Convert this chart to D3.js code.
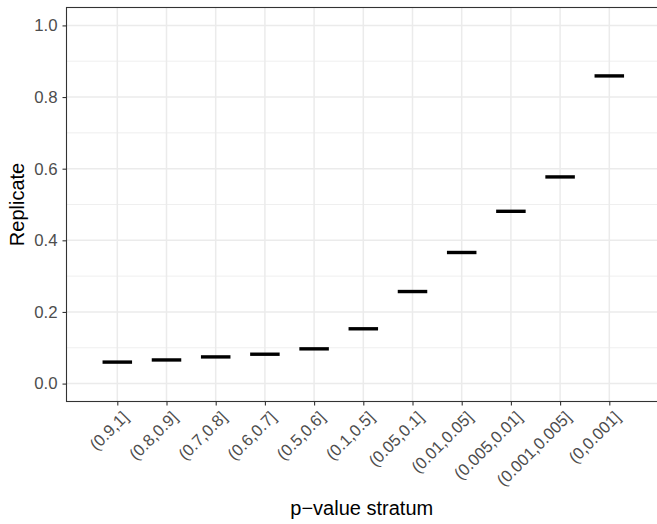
<!DOCTYPE html>
<html>
<head>
<meta charset="utf-8">
<script src="https://cdn.jsdelivr.net/npm/d3@7"></script>
<style>
  html, body { margin: 0; padding: 0; background: #fff; }
  svg { display: block; font-family: "Liberation Sans", Arial, Helvetica, sans-serif; }
</style>
</head>
<body>
<svg id="chart" width="657" height="524"></svg>
<script>
// ---- data ----
const categories = ["(0.9,1]", "(0.8,0.9]", "(0.7,0.8]", "(0.6,0.7]", "(0.5,0.6]", "(0.1,0.5]",
                    "(0.05,0.1]", "(0.01,0.05]", "(0.005,0.01]", "(0.001,0.005]", "(0,0.001]"];
const replicate = [0.060, 0.066, 0.0745, 0.082, 0.097, 0.153, 0.257, 0.366, 0.481, 0.577, 0.859];
const yTicks = [0.0, 0.2, 0.4, 0.6, 0.8, 1.0];
const yMinor = [0.1, 0.3, 0.5, 0.7, 0.9];
const xTitle = "p\u2212value stratum";
const yTitle = "Replicate";

// ---- layout ----
const svg = d3.select("#chart");
const panel = { left: 66.5, right: 658, top: 7.5, bottom: 401.5 };

const x = d3.scalePoint().domain(categories).range([117.3, 609.3]);
const y = d3.scaleLinear().domain([-0.05, 1.05]).range([panel.bottom, panel.top]);

// panel background
svg.append("rect")
  .attr("x", panel.left).attr("y", panel.top)
  .attr("width", panel.right - panel.left).attr("height", panel.bottom - panel.top)
  .attr("fill", "#fff");

// minor grid
svg.append("g").selectAll("line").data(yMinor).join("line")
  .attr("x1", panel.left).attr("x2", panel.right)
  .attr("y1", d => y(d)).attr("y2", d => y(d))
  .attr("stroke", "#EBEBEB").attr("stroke-width", 0.8);

// major grid
svg.append("g").selectAll("line").data(yTicks).join("line")
  .attr("x1", panel.left).attr("x2", panel.right)
  .attr("y1", d => y(d)).attr("y2", d => y(d))
  .attr("stroke", "#EBEBEB").attr("stroke-width", 1.5);
svg.append("g").selectAll("line").data(categories).join("line")
  .attr("x1", d => x(d)).attr("x2", d => x(d))
  .attr("y1", panel.top).attr("y2", panel.bottom)
  .attr("stroke", "#EBEBEB").attr("stroke-width", 1.5);

// segments
const half = x.step() * 0.3;
svg.append("g").selectAll("line").data(categories).join("line")
  .attr("x1", d => x(d) - half).attr("x2", d => x(d) + half)
  .attr("y1", (d, i) => y(replicate[i])).attr("y2", (d, i) => y(replicate[i]))
  .attr("stroke", "#000").attr("stroke-width", 3.4);

// panel border
svg.append("rect")
  .attr("x", panel.left).attr("y", panel.top)
  .attr("width", panel.right - panel.left).attr("height", panel.bottom - panel.top)
  .attr("fill", "none").attr("stroke", "#333333").attr("stroke-width", 1.1);

// y axis
const yAxis = d3.axisLeft(y).tickValues(yTicks).tickFormat(d3.format(".1f")).tickSize(4).tickPadding(5);
const gy = svg.append("g").attr("transform", `translate(${panel.left},0)`).call(yAxis);
gy.select(".domain").remove();
gy.selectAll(".tick line").attr("stroke", "#333333").attr("stroke-width", 1.1);
gy.selectAll(".tick text").attr("fill", "#4D4D4D").style("font-size", "16.8px")
  .style("font-family", "'Liberation Sans', Arial, sans-serif");

// x axis
const xAxis = d3.axisBottom(x).tickSize(4).tickPadding(3);
const gx = svg.append("g").attr("transform", `translate(0,${panel.bottom})`).call(xAxis);
gx.select(".domain").remove();
gx.selectAll(".tick line").attr("stroke", "#333333").attr("stroke-width", 1.1);
gx.selectAll(".tick text")
  .attr("fill", "#4D4D4D").style("font-size", "16.5px")
  .style("font-family", "'Liberation Sans', Arial, sans-serif")
  .attr("text-anchor", "end")
  .attr("y", 0).attr("dy", "0.75em")
  .attr("transform", "translate(3,8) rotate(-45)");

// axis titles
svg.append("text")
  .attr("x", (panel.left + 657) / 2).attr("y", 515)
  .attr("text-anchor", "middle").attr("fill", "#000")
  .style("font-size", "20px")
  .text(xTitle);

svg.append("text")
  .attr("transform", `translate(24,${(panel.top + panel.bottom) / 2}) rotate(-90)`)
  .attr("text-anchor", "middle").attr("fill", "#000")
  .style("font-size", "20px")
  .text(yTitle);
</script>
</body>
</html>
